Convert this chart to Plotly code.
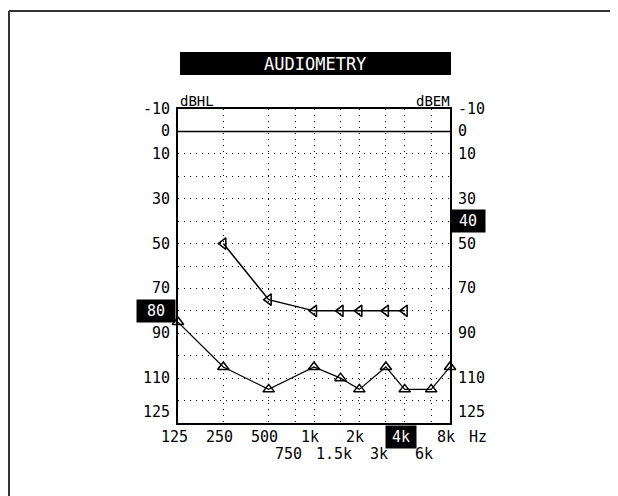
import math
import plotly.graph_objects as go

# ---- data ----
series_a_freq = [250, 500, 1000, 1500, 2000, 3000, 4000]
series_a_db = [50, 75, 80, 80, 80, 80, 80]
series_b_freq = [125, 250, 500, 1000, 1500, 2000, 3000, 4000, 6000, 8000]
series_b_db = [85, 105, 115, 105, 110, 115, 105, 115, 115, 105]

main_tick_freqs = [125, 250, 500, 1000, 2000, 4000, 8000]
main_tick_text = ["125", "250", "500", "1k", "2k", "4k", "8k"]
sub_tick_freqs = [750, 1500, 3000, 6000]
sub_tick_text = ["750", "1.5k", "3k", "6k"]
highlight_freq_label = "4k"

left_labels = [-10, 0, 10, 30, 50, 70, 90, 110, 125]
right_labels = [-10, 0, 10, 30, 50, 70, 90, 110, 125]
left_highlight = 80
right_highlight = 40

grid_freqs = [250, 500, 750, 1000, 1500, 2000, 3000, 4000, 6000]
grid_db = [10, 20, 30, 40, 50, 60, 70, 80, 90, 100, 110, 120]

OFF = 8  # page body margin compensation
W, H = 618 - OFF, 496 - OFF
L, R, T, B = 178, 450, 109, 423
FONT = "DejaVu Sans Mono"


def px(x):
    return (x - L) / (R - L)


def py(y):
    return (B - y) / (B - T)


fig = go.Figure()
fig.add_trace(go.Scatter(
    x=series_a_freq, y=series_a_db, mode="lines+markers", cliponaxis=False,
    line=dict(color="black", width=1.5),
    marker=dict(symbol="triangle-left-open", size=10, color="black", line=dict(width=1.5)),
    showlegend=False))
fig.add_trace(go.Scatter(
    x=series_b_freq, y=series_b_db, mode="lines+markers", cliponaxis=False,
    line=dict(color="black", width=1.2),
    marker=dict(symbol="triangle-up-open", size=10, color="black", line=dict(width=1.5)),
    showlegend=False))

fig.update_xaxes(type="log", range=[math.log10(125), math.log10(8000)], tickvals=grid_freqs,
                 showticklabels=False, ticks="", showgrid=True, gridcolor="black", gridwidth=1,
                 griddash="1px,5px", zeroline=False, showline=True, linecolor="black",
                 linewidth=2, mirror=True)
fig.update_yaxes(range=[130, -10], tickvals=grid_db, showticklabels=False, ticks="",
                 showgrid=True, gridcolor="black", gridwidth=1, griddash="1px,5px",
                 zeroline=False, showline=True, linecolor="black", linewidth=2, mirror=True)

shapes = []
shapes.append(dict(type="line", xref="paper", yref="y", x0=0, x1=1, y0=0, y1=0,
                   line=dict(color="black", width=1.5)))
shapes.append(dict(type="line", xref="paper", yref="paper", x0=px(9), x1=px(640), y0=py(11), y1=py(11),
                   line=dict(color="#333333", width=2)))
shapes.append(dict(type="line", xref="paper", yref="paper", x0=px(9), x1=px(9), y0=py(11), y1=py(520),
                   line=dict(color="#333333", width=2)))
shapes.append(dict(type="rect", xref="paper", yref="paper", x0=px(180), x1=px(451), y0=py(75), y1=py(52),
                   fillcolor="black", line=dict(width=0)))

ann = []
ann.append(dict(text="AUDIOMETRY", xref="paper", yref="paper", x=px(315), y=py(64), showarrow=False,
                font=dict(family=FONT, size=17, color="white"), xanchor="center", yanchor="middle"))
ann.append(dict(text="dBHL", xref="paper", yref="paper", x=px(178), y=py(101), showarrow=False,
                font=dict(family=FONT, size=14, color="black"), xanchor="left", yanchor="middle"))
ann.append(dict(text="dBEM", xref="paper", yref="paper", x=px(452), y=py(101), showarrow=False,
                font=dict(family=FONT, size=14, color="black"), xanchor="right", yanchor="middle"))

for v in left_labels:
    ann.append(dict(text=str(v), xref="paper", yref="y", x=px(172), y=v, showarrow=False,
                    font=dict(family=FONT, size=15, color="black"), xanchor="right", yanchor="middle"))
ann.append(dict(text=str(left_highlight), xref="paper", yref="y", x=px(156), y=left_highlight, showarrow=False,
                font=dict(family=FONT, size=15, color="white"), bgcolor="black", borderpad=2,
                xanchor="center", yanchor="middle", width=34))
for v in right_labels:
    ann.append(dict(text=str(v), xref="paper", yref="y", x=px(456), y=v, showarrow=False,
                    font=dict(family=FONT, size=15, color="black"), xanchor="left", yanchor="middle"))
ann.append(dict(text=str(right_highlight), xref="paper", yref="y", x=px(468), y=right_highlight, showarrow=False,
                font=dict(family=FONT, size=15, color="white"), bgcolor="black", borderpad=2,
                xanchor="center", yanchor="middle", width=30))

for f, t in zip(main_tick_freqs, main_tick_text):
    hl = t == highlight_freq_label
    ann.append(dict(text=t, xref="x", yref="paper", x=math.log10(f), y=py(437), showarrow=False,
                    xshift=-4, font=dict(family=FONT, size=15, color="white" if hl else "black"),
                    bgcolor="black" if hl else None, borderpad=2 if hl else 0,
                    xanchor="center", yanchor="middle", width=26 if hl else None))
for f, t in zip(sub_tick_freqs, sub_tick_text):
    ann.append(dict(text=t, xref="x", yref="paper", x=math.log10(f), y=py(454), showarrow=False,
                    xshift=-7, font=dict(family=FONT, size=15, color="black"),
                    xanchor="center", yanchor="middle"))
ann.append(dict(text="Hz", xref="paper", yref="paper", x=px(467), y=py(437), showarrow=False,
                font=dict(family=FONT, size=15, color="black"), xanchor="left", yanchor="middle"))

fig.update_layout(width=W, height=H,
                  margin=dict(l=L - OFF, r=W - (R - OFF), t=T - OFF, b=H - (B - OFF)),
                  plot_bgcolor="white", paper_bgcolor="white",
                  shapes=shapes, annotations=ann)

fig.write_html("out.html")
